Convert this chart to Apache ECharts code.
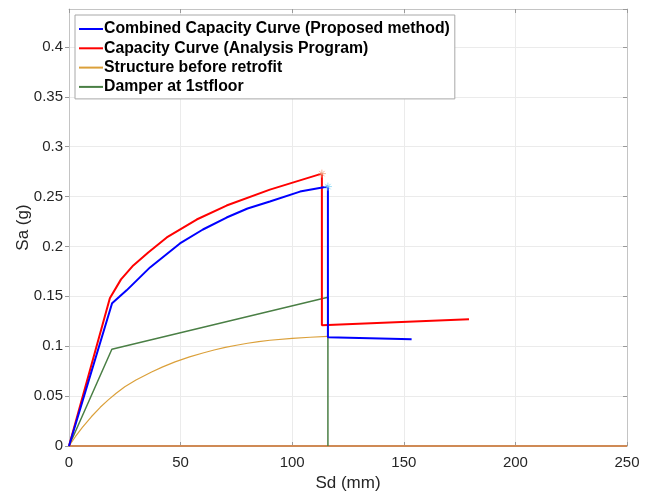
<!DOCTYPE html>
<html>
<head>
<meta charset="utf-8">
<script src="https://cdn.jsdelivr.net/npm/echarts@6/dist/echarts.min.js"></script>
<style>
html,body{margin:0;padding:0;background:#fff;}
#c{width:655px;height:496px;}
</style>
</head>
<body>
<div id="c"></div>
<script>
// ---- data ----
var seriesNames = [
  'Combined Capacity Curve (Proposed method)',
  'Capacity Curve (Analysis Program)',
  'Structure before retrofit',
  'Damper at 1stfloor'
];
var combinedSd = [0, 19.3, 25.8, 36.3, 49.7, 60, 70.6, 80, 90, 103.5, 116, 116, 153.5];
var combinedSa = [0, 0.143, 0.156, 0.179, 0.203, 0.217, 0.229, 0.238, 0.245, 0.255, 0.260, 0.109, 0.107];
var programSd = [0, 18.3, 23.3, 28.8, 35.5, 43.8, 57.2, 70.6, 90, 113.3, 113.3, 179.2];
var programSa = [0, 0.148, 0.167, 0.181, 0.194, 0.209, 0.227, 0.241, 0.257, 0.273, 0.121, 0.127];
var beforeSd = [0, 3, 6, 10, 14, 17.6, 21, 25, 30, 37, 42, 47.5, 54, 60, 65, 70, 75, 80, 85, 90, 100, 108, 116];
var beforeSa = [0, 0.0098, 0.0187, 0.0293, 0.0388, 0.0462, 0.0527, 0.0594, 0.0662, 0.0742, 0.0793, 0.0843, 0.0893, 0.0932, 0.0962, 0.0988, 0.1010, 0.1030, 0.1046, 0.1060, 0.1078, 0.1090, 0.1098];
var damperSd = [0, 19.2, 116, 116];
var damperSa = [0, 0.097, 0.149, 0];
var baseSd = [0, 250];
var baseSa = [0, 0];
var peakProgram = [113.3, 0.273];
var peakCombined = [116, 0.260];
var xTicks = [0, 50, 100, 150, 200, 250];
var yTicks = [0, 0.05, 0.1, 0.15, 0.2, 0.25, 0.3, 0.35, 0.4];

function pairs(xs, ys){ return xs.map(function(x,i){ return [x, ys[i]]; }); }

var FONT = '"Liberation Sans", Arial, Helvetica, sans-serif';
var gridColor = '#ebebeb';
var boxColor = '#c4c4c4';
var asterisk = 'path://M5,0L5,10M0,5L10,5M1.6,1.6L8.4,8.4M8.4,1.6L1.6,8.4';

var chart = echarts.init(document.getElementById('c'), null, {renderer:'canvas'});
chart.setOption({
  animation: false,
  backgroundColor: '#ffffff',
  grid: {left: 69, right: 28, top: 9, bottom: 50, containLabel: false, outerBoundsMode: 'none'},
  legend: {
    data: seriesNames,
    orient: 'vertical',
    left: 75, top: 15,
    padding: [6, 5, 4, 4],
    icon: 'rect',
    itemWidth: 24, itemHeight: 2, itemGap: 3.3,
    backgroundColor: '#ffffff',
    borderColor: '#a8a8a8', borderWidth: 1,
    textStyle: {fontFamily: FONT, fontWeight: 'bold', fontSize: 15.8, color: '#000', padding: [0,0,0,-4]}
  },
  xAxis: [{
    type: 'value', min: xTicks[0], max: xTicks[xTicks.length-1], interval: 50,
    name: 'Sd (mm)', nameLocation: 'middle', nameGap: 29, nameMoveOverlap: false,
    nameTextStyle: {fontFamily: FONT, fontSize: 17, color: '#262626'},
    axisLine: {show: true, lineStyle: {color: boxColor}},
    axisTick: {show: true, inside: true, length: 4, lineStyle: {color: '#9a9a9a'}},
    axisLabel: {fontFamily: FONT, fontSize: 15, color: '#262626', margin: 9},
    splitLine: {show: true, lineStyle: {color: gridColor}}
  }, {
    type: 'value', position: 'top', min: 0, max: 250, interval: 50,
    axisLine: {show: true, onZero: false, lineStyle: {color: boxColor}},
    axisTick: {show: true, inside: true, length: 4, lineStyle: {color: '#9a9a9a'}},
    axisLabel: {show: false}, splitLine: {show: false}
  }],
  yAxis: [{
    type: 'value', min: 0, max: 0.438, interval: 0.05,
    name: 'Sa (g)', nameLocation: 'middle', nameGap: 37, nameRotate: 90, nameMoveOverlap: false,
    nameTextStyle: {fontFamily: FONT, fontSize: 17, color: '#262626'},
    axisLine: {show: true, lineStyle: {color: boxColor}},
    axisTick: {show: true, inside: false, length: 4, lineStyle: {color: '#9a9a9a'}},
    axisLabel: {fontFamily: FONT, fontSize: 15, color: '#262626', margin: 6, showMaxLabel: false,
      formatter: function(v){ return yTicks.some(function(t){return Math.abs(t-v)<1e-9;}) ? String(+v.toFixed(2)) : ''; }},
    splitLine: {show: true, lineStyle: {color: gridColor}}
  }, {
    type: 'value', position: 'right', min: 0, max: 0.438, interval: 0.05,
    axisLine: {show: true, onZero: false, lineStyle: {color: boxColor}},
    axisTick: {show: true, inside: true, length: 4, lineStyle: {color: '#9a9a9a'}},
    axisLabel: {show: false}, splitLine: {show: false}
  }],
  series: [
    {name: 'base', type: 'line', data: pairs(baseSd, baseSa), symbol: 'none', silent: true,
     lineStyle: {color: '#cf8a55', width: 2}, z: 1},
    {name: seriesNames[3], type: 'line', data: pairs(damperSd, damperSa), symbol: 'none',
     color: '#4a7f45', lineStyle: {color: '#4a7f45', width: 1.5}, z: 2},
    {name: seriesNames[2], type: 'line', data: pairs(beforeSd, beforeSa), symbol: 'none',
     color: '#dba03a', lineStyle: {color: '#dba03a', width: 1.2}, z: 2},
    {name: seriesNames[1], type: 'line', data: pairs(programSd, programSa), symbol: 'none',
     color: '#ff0000', lineStyle: {color: '#ff0000', width: 2}, z: 3},
    {name: seriesNames[0], type: 'line', data: pairs(combinedSd, combinedSa), symbol: 'none',
     color: '#0000ff', lineStyle: {color: '#0000ff', width: 2}, z: 4},
    {name: 'peak1', type: 'scatter', data: [peakProgram], symbol: asterisk, symbolSize: 8,
     itemStyle: {color: 'rgba(0,0,0,0)', borderColor: '#f0a080', borderWidth: 1}, z: 5},
    {name: 'peak2', type: 'scatter', data: [peakCombined], symbol: asterisk, symbolSize: 8,
     itemStyle: {color: 'rgba(0,0,0,0)', borderColor: '#80d4f4', borderWidth: 1}, z: 5}
  ]
});
</script>
</body>
</html>
